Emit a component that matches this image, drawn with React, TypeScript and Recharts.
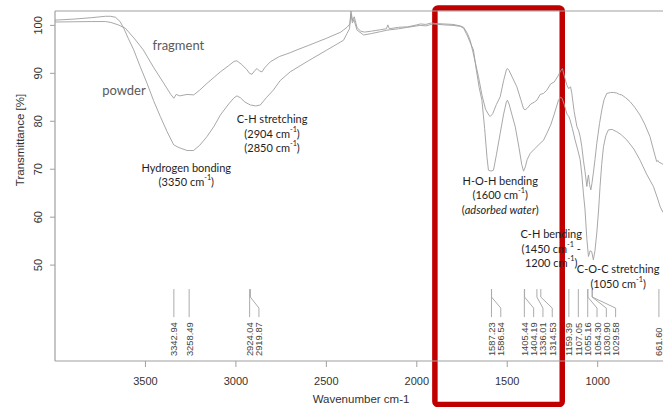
import React from "react";
import {
  ComposedChart,
  Line,
  XAxis,
  YAxis,
  Scatter,
  ReferenceArea,
  ReferenceDot,
  ReferenceLine,
} from "recharts";

// ---- layout ----
const CHART_W = 663;
const CHART_H = 407;
const Y_AXIS_W = 55;
const X_AXIS_H = 46;
const TOP = 11;

// ---- axis ranges (wavenumber axis runs high -> low) ----
const X_MIN = 639;
const X_MAX = 4000;
const Y_MIN = 30;
const Y_MAX = 103;

const xTicks = [3500, 3000, 2500, 2000, 1500, 1000];
const yTicks = [50, 60, 70, 80, 90, 100];

// ---- FTIR spectrum: fragment ----
const fragmentWn = [
  4000, 3900, 3800, 3720, 3690, 3650, 3611, 3560, 3512, 3456, 3400, 3360, 3343, 3330, 3310, 3270,
  3233, 3200, 3160, 3120, 3086, 3040, 3010, 2994, 2970, 2940, 2925, 2911, 2895, 2883, 2870, 2856,
  2840, 2810, 2760, 2700, 2662, 2600, 2500, 2420, 2386, 2370, 2364, 2355, 2346, 2330, 2310, 2290,
  2250, 2200, 2168, 2160, 2152, 2100, 2050, 2000, 1980, 1950, 1920, 1900, 1850, 1800, 1760, 1741,
  1720, 1705, 1690, 1675, 1659, 1640, 1620, 1600, 1594, 1580, 1560, 1539, 1520, 1505, 1499, 1490,
  1470, 1447, 1425, 1410, 1401, 1390, 1370, 1350, 1336, 1318, 1300, 1281, 1260, 1240, 1217, 1205,
  1195, 1185, 1170, 1160, 1150, 1143, 1130, 1115, 1105, 1097, 1088, 1079, 1070, 1060, 1055, 1051,
  1045, 1038, 1032, 1024, 1015, 1005, 990, 977, 965, 950, 930, 913, 895, 880, 867, 845,
  821, 795, 766, 740, 711, 690, 674, 666, 660, 650, 639,
];
const fragmentT = [
  100.7, 100.75, 100.8, 100.8, 100.6, 100.1, 99.4, 97.2, 94.9, 91.3, 88.0, 85.6, 84.8, 85.6, 85.3, 85.6,
  85.5, 86.5, 87.9, 89.2, 90.3, 91.6, 92.5, 92.6, 91.9, 90.8, 90.0, 89.8, 90.6, 91.0, 90.5, 90.3,
  91.2, 92.4, 93.5, 94.3, 94.9, 95.8, 97.3, 98.6, 99.6, 100.3, 103.0, 101.0, 101.8, 99.5, 98.8, 98.6,
  98.8, 99.1, 99.3, 100.1, 99.3, 99.6, 99.7, 100.1, 100.3, 100.2, 100.5, 100.4, 100.3, 100.2, 99.9, 99.6,
  98.3, 96.9, 94.5, 92.0, 89.3, 85.5, 82.5, 81.2, 81.0, 81.6, 83.5, 85.1, 88.5, 90.7, 91.0, 90.6,
  89.0, 87.2, 84.5, 82.6, 82.4, 82.7, 83.6, 84.0, 84.4, 85.6, 85.8, 86.5, 87.8, 88.2, 89.6, 90.5,
  91.0, 89.5, 87.5, 86.8, 87.2, 85.8, 82.0, 78.9, 78.0, 76.8, 74.8, 71.9, 69.5, 66.4, 68.0, 68.8,
  66.8, 65.7, 67.0, 69.2, 72.0, 75.4, 79.5, 82.4, 84.5, 85.8, 86.0, 86.0, 85.9, 85.6, 85.5, 84.9,
  84.1, 82.9, 81.3, 79.4, 76.8, 73.8, 71.6, 71.8, 71.4, 71.3, 71.0,
];

// ---- FTIR spectrum: powder ----
const powderWn = [
  4000, 3900, 3800, 3720, 3694, 3666, 3640, 3620, 3595, 3565, 3530, 3491, 3455, 3418, 3380, 3344,
  3320, 3307, 3270, 3234, 3200, 3160, 3120, 3086, 3040, 3010, 2994, 2975, 2950, 2920, 2890, 2865,
  2830, 2793, 2755, 2700, 2600, 2500, 2405, 2386, 2372, 2364, 2356, 2348, 2330, 2294, 2250, 2200,
  2165, 2100, 2050, 1981, 1950, 1910, 1850, 1800, 1760, 1741, 1720, 1700, 1687, 1670, 1655, 1640,
  1625, 1612, 1604, 1590, 1576, 1560, 1539, 1520, 1505, 1499, 1490, 1475, 1456, 1435, 1420, 1410,
  1400, 1390, 1373, 1350, 1318, 1300, 1281, 1260, 1240, 1217, 1205, 1197, 1185, 1170, 1160, 1153,
  1140, 1125, 1110, 1097, 1088, 1079, 1070, 1060, 1051, 1042, 1033, 1024, 1015, 1005, 995, 987,
  978, 968, 955, 941, 920, 894, 870, 839, 800, 766, 730, 692, 670, 655, 639,
];
const powderT = [
  101.1, 101.3, 101.6, 101.9, 101.9, 101.7, 100.8, 99.4, 97.3, 94.9, 91.5, 87.9, 84.3, 81.0, 77.8, 75.1,
  74.6, 74.4, 73.9, 73.9, 75.0, 76.8, 79.0, 81.3, 83.6, 84.9, 85.3, 84.9, 84.0, 83.4, 83.2, 83.4,
  85.0, 86.5, 88.5, 90.3, 92.6, 94.8, 96.9, 98.3, 99.3, 102.4, 100.5, 101.2, 99.0, 98.0, 98.3, 98.7,
  99.0, 99.3, 99.6, 100.0, 99.9, 100.3, 100.1, 100.0, 99.8, 99.4, 97.8, 96.0, 94.9, 90.5, 87.0, 84.4,
  78.5, 72.5, 69.8, 69.6, 69.8, 73.0, 77.5, 81.5, 84.0, 84.4, 83.6, 81.5, 78.9, 74.5, 71.0, 69.6,
  70.5, 72.0, 73.3, 74.2, 75.4, 76.0, 77.5, 79.2, 81.5, 84.4, 85.0, 84.8, 83.5, 81.5, 81.0, 80.3,
  78.5, 76.1, 74.0, 72.0, 69.0, 65.0, 61.5, 55.5, 51.8, 53.0, 52.8, 51.1, 53.0, 56.7, 61.5, 66.4,
  71.0, 74.7, 77.0, 78.2, 78.3, 77.8, 77.2, 76.1, 74.2, 71.9, 69.0, 66.4, 64.0, 62.2, 61.0,
];

// ---- picked peak positions ----
const peakWn = [
  3342.94, 3258.49, 2924.04, 2919.87, 1587.23, 1586.54, 1405.44, 1404.19, 1336.01, 1314.53,
  1159.39, 1107.05, 1055.16, 1054.3, 1030.9, 1029.58, 661.6,
];
const PEAK_MARK_T = 45;

// ---- band assignments ----
const annotationWn = [3318, 3619, 3274, 2800, 1539, 1257, 887];
const annotationT = [95.9, 86.5, 70.5, 80.6, 67.75, 56.6, 49.3];
const annotationText = [
  ["fragment"],
  ["powder"],
  ["Hydrogen bonding", "(3350 cm^-1)"],
  ["C-H stretching", "(2904 cm^-1)", "(2850 cm^-1)"],
  ["H-O-H bending", "(1600 cm^-1)", "(*adsorbed water*)"],
  ["C-H bending", "(1450 cm^-1 -", "1200 cm^-1)"],
  ["C-O-C stretching", "(1050 cm^-1)"],
];
const annotationIsLegend = [true, true, false, false, false, false, false];

// ---- highlighted region ----
const highlightFrom = 1900;
const highlightTo = 1196;

const fragmentData = fragmentWn.map((wn, i) => ({ wn, fragment: fragmentT[i] }));
const powderData = powderWn.map((wn, i) => ({ wn, powder: powderT[i] }));

// spread crowded peak labels so they do not overlap
const PLOT_W = CHART_W - Y_AXIS_W;
const PX_PER_UNIT = PLOT_W / (X_MAX - X_MIN);
const LABEL_GAP = 9.3;
const peakData = (() => {
  const out: { wn: number; t: number; offset: number; text: string }[] = [];
  let prev = -Infinity;
  peakWn.forEach((wn) => {
    const px = (X_MAX - wn) * PX_PER_UNIT;
    const lx = Math.max(px, prev + LABEL_GAP);
    prev = lx;
    out.push({ wn, t: PEAK_MARK_T, offset: lx - px, text: wn.toFixed(2) });
  });
  return out;
})();

const AXIS_GRAY = "#a0a0a0";
const CURVE_GRAY = "#9e9e9e";
const TICK_FONT = "'Liberation Sans', Arial, sans-serif";
const NOTE_FONT = "Lato, 'Open Sans', sans-serif";

function richLine(line: string, fontSize: number) {
  const tokens = line.split(/(\^-1|\*[^*]+\*)/).filter((s) => s.length > 0);
  const out: React.ReactNode[] = [];
  let raised = false;
  tokens.forEach((tok, i) => {
    if (tok === "^-1") {
      out.push(
        <tspan key={i} fontSize={fontSize * 0.66} dy={-fontSize * 0.36}>
          -1
        </tspan>
      );
      raised = true;
    } else {
      const italic = tok.startsWith("*") && tok.endsWith("*");
      const txt = italic ? tok.slice(1, -1) : tok;
      out.push(
        <tspan key={i} dy={raised ? fontSize * 0.36 : 0} fontStyle={italic ? "italic" : "normal"}>
          {txt}
        </tspan>
      );
      raised = false;
    }
  });
  return out;
}

const PeakMarker = (props: any) => {
  const { cx, cy } = props;
  const p = props.payload ?? props;
  const off: number = p.offset ?? 0;
  const lx = cx + off;
  const path =
    off > 0.5
      ? `M${cx},${cy} L${cx},${cy + 8} L${lx},${cy + 19} L${lx},${cy + 28}`
      : `M${cx},${cy} L${cx},${cy + 28}`;
  const ty = cy + 67;
  return (
    <g>
      <path d={path} fill="none" stroke="#ababab" strokeWidth={1} />
      <text
        x={lx}
        y={ty}
        transform={`rotate(-90 ${lx} ${ty})`}
        textAnchor="start"
        dominantBaseline="central"
        fontSize={9.4}
        fontFamily={TICK_FONT}
        fill="#444"
      >
        {p.text}
      </text>
    </g>
  );
};

const makeNote = (lines: string[], legend: boolean) => (props: any) => {
  const { cx, cy } = props;
  const fs = legend ? 13 : 11;
  const lh = 14.3;
  return (
    <g>
      {lines.map((ln, i) => (
        <text
          key={i}
          x={cx}
          y={cy + i * lh}
          textAnchor="middle"
          dominantBaseline="central"
          fontSize={fs}
          fontFamily={NOTE_FONT}
          fill={legend ? "#5a5a5a" : "#1e1e1e"}
        >
          {richLine(ln, fs)}
        </text>
      ))}
    </g>
  );
};

const YTick = (props: any) => {
  const { y, payload } = props;
  const x = Y_AXIS_W - 17;
  return (
    <text
      x={x}
      y={y}
      transform={`rotate(-90 ${x} ${y})`}
      textAnchor="middle"
      dominantBaseline="central"
      fontSize={11}
      fontFamily={TICK_FONT}
      fill="#333"
    >
      {payload.value}
    </text>
  );
};

const XTick = (props: any) => {
  const { x, payload } = props;
  return (
    <text
      x={x}
      y={CHART_H - X_AXIS_H + 20}
      textAnchor="middle"
      dominantBaseline="central"
      fontSize={11}
      fontFamily={TICK_FONT}
      fill="#333"
    >
      {payload.value}
    </text>
  );
};

const HighlightBox = (props: any) => {
  const { x, y, width, height } = props;
  return (
    <rect
      x={x}
      y={y - 3}
      width={width}
      height={height + 46.5}
      rx={3}
      fill="none"
      stroke="#c00000"
      strokeWidth={5.5}
    />
  );
};

export default function App() {
  return (
    <div
      style={{
        position: "absolute",
        left: 0,
        top: 0,
        width: CHART_W,
        height: CHART_H,
        background: "#fff",
      }}
    >
      <ComposedChart
        width={CHART_W}
        height={CHART_H}
        margin={{ top: TOP, right: 0, bottom: 0, left: 0 }}
      >
        <XAxis
          type="number"
          dataKey="wn"
          domain={[X_MIN, X_MAX]}
          reversed
          ticks={xTicks}
          allowDataOverflow
          height={X_AXIS_H}
          tick={<XTick />}
          tickSize={6}
          axisLine={{ stroke: AXIS_GRAY, strokeWidth: 1.2 }}
          tickLine={{ stroke: AXIS_GRAY }}
          label={{
            content: () => (
              <text
                x={361}
                y={399}
                textAnchor="middle"
                dominantBaseline="central"
                fontSize={11.5}
                fontFamily={TICK_FONT}
                fill="#333"
              >
                Wavenumber cm-1
              </text>
            ),
          }}
        />
        <YAxis
          type="number"
          domain={[Y_MIN, Y_MAX]}
          ticks={yTicks}
          allowDataOverflow
          width={Y_AXIS_W}
          tick={<YTick />}
          tickSize={5}
          axisLine={{ stroke: AXIS_GRAY, strokeWidth: 1.2 }}
          tickLine={{ stroke: AXIS_GRAY }}
          label={{
            content: () => (
              <text
                x={20}
                y={140}
                transform="rotate(-90 20 140)"
                textAnchor="middle"
                dominantBaseline="central"
                fontSize={11.5}
                fontFamily={TICK_FONT}
                fill="#333"
              >
                Transmittance [%]
              </text>
            ),
          }}
        />
        <ReferenceLine y={Y_MAX} stroke={AXIS_GRAY} strokeWidth={1.2} ifOverflow="visible" />

        <Line
          data={fragmentData}
          dataKey="fragment"
          type="linear"
          stroke={CURVE_GRAY}
          strokeWidth={0.9}
          dot={false}
          activeDot={false}
          isAnimationActive={false}
        />
        <Line
          data={powderData}
          dataKey="powder"
          type="linear"
          stroke={CURVE_GRAY}
          strokeWidth={0.9}
          dot={false}
          activeDot={false}
          isAnimationActive={false}
        />
        <Scatter
          data={peakData}
          dataKey="t"
          shape={<PeakMarker />}
          isAnimationActive={false}
        />

        {annotationWn.map((wn, i) => (
          <ReferenceDot
            key={`note-${i}`}
            x={wn}
            y={annotationT[i]}
            ifOverflow="visible"
            shape={makeNote(annotationText[i], annotationIsLegend[i])}
          />
        ))}

        <ReferenceArea
          x1={highlightFrom}
          x2={highlightTo}
          ifOverflow="visible"
          shape={<HighlightBox />}
        />
      </ComposedChart>
    </div>
  );
}
